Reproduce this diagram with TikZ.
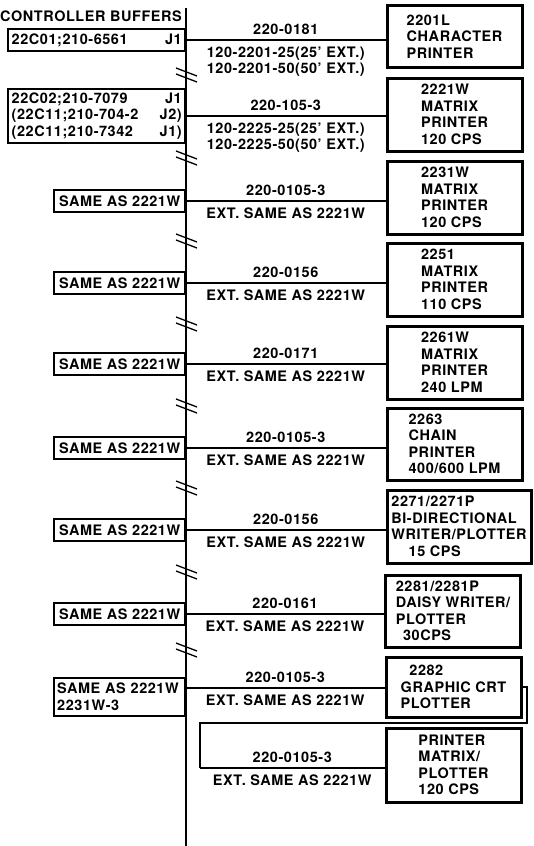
\documentclass[tikz,border=0pt]{standalone}
\usepackage{fontspec}
\setmainfont{TeX Gyre Heros}[LetterSpace=4]
\usetikzlibrary{positioning,calc}

\newcommand{\extsame}{EXT. SAME AS 2221W}

\begin{document}
\begin{tikzpicture}[x=1bp,y=-1bp,
    every node/.style={font=\fontsize{14.5}{16.6}\selectfont\bfseries,inner sep=0pt},
    pbox/.style={draw,line width=3bp,minimum width=135bp,minimum height=73bp,align=left},
    lbox/.style={draw,line width=1.6bp,minimum width=131bp,minimum height=22bp,inner xsep=3bp},
    bus/.style={line width=1.4bp},
    cable/.style={line width=1.2bp},
    brk/.style={line width=1.3bp}]
  \useasboundingbox (0,0) rectangle (534,846);

  % bus of the controller
  \coordinate (bustop) at (186,8);
  \coordinate (busbot) at (186,846);
  \node[anchor=east] (head) at (182,16) {CONTROLLER BUFFERS};
  \draw[bus] (bustop) -- (busbot);
  \foreach \y in {77,160,243,326,408,490,574,652}{
    \draw[brk] (176,\y-9) -- (197,\y-1);
    \draw[brk] (176,\y-3) -- (197,\y+5);}

  % cable taps
  \foreach \n/\y in {1/40,2/116,3/201,4/283,5/364,6/448,7/530,8/614,9/688}
    \coordinate (c\n) at (186,\y);
  \coordinate (c10) at (200,768);

  % buffers
  \node[lbox,minimum width=177bp,text width=170bp,left=0pt of c1] (l1) {22C01;210-6561\hfill J1};
  \node[lbox,minimum width=177bp,text width=170bp,minimum height=54bp,align=left,left=0pt of c2] (l2) {22C02;210-7079\hfill J1\\(22C11;210-704-2\hfill J2)\\(22C11;210-7342\hfill J1)};
  \foreach \n in {3,...,8}
    \node[lbox,left=0pt of c\n] (l\n) {SAME AS 2221W};
  \node[lbox,anchor=north east,text width=125bp,minimum height=38bp,align=left] (l9) at ($(c9)+(0,-11)$) {SAME AS 2221W\\2231W-3};

  % printers
  \node[pbox,minimum height=61bp] (p1) at (454.5,36.5) {2201L\\CHARACTER\\PRINTER};
  \node[pbox] (p2) at (454.5,114.5) {2221W\\MATRIX\\PRINTER\\120 CPS};
  \node[pbox] (p3) at (454.5,197.5) {2231W\\MATRIX\\PRINTER\\120 CPS};
  \node[pbox] (p4) at (454.5,279.5) {2251\\MATRIX\\PRINTER\\110 CPS};
  \node[pbox] (p5) at (454.5,362.5) {2261W\\MATRIX\\PRINTER\\240 LPM};
  \node[pbox,minimum height=72bp] (p6) at (454.5,444) {2263\\CHAIN\\PRINTER\\400/600 LPM};
  \node[pbox,minimum width=144bp] (p7) at (459,526.5) {2271/2271P\\BI-DIRECTIONAL\\WRITER/PLOTTER\\\hspace{1.2em}15 CPS};
  \node[pbox,minimum height=72bp] (p8) at (453,611) {2281/2281P\\DAISY WRITER/\\PLOTTER\\\hspace{.5em}30CPS};
  \node[pbox,minimum height=60bp] (p9) at (453.5,687) {\hspace{.6em}2282\\GRAPHIC CRT\\PLOTTER};
  \node[pbox,minimum height=74bp] (p10) at (453.5,765) {PRINTER\\MATRIX/\\PLOTTER\\120 CPS};

  % cables
  \foreach \n/\cabno/\cabext in {1/220-0181/{120-2201-25(25' EXT.)\\120-2201-50(50' EXT.)},
      2/220-105-3/{120-2225-25(25' EXT.)\\120-2225-50(50' EXT.)},
      3/220-0105-3/\extsame,4/220-0156/\extsame,5/220-0171/\extsame,6/220-0105-3/\extsame,
      7/220-0156/\extsame,8/220-0161/\extsame,9/220-0105-3/\extsame,10/220-0105-3/\extsame}
    \draw[cable] (c\n) -- (c\n -| p\n.west) node[midway,above=5bp] {\cabno} node[midway,below=6bp,align=center] {\cabext};
  \coordinate (k1) at (527,723);
  \coordinate (k2) at (200,723);
  \draw[cable] (p9.east) -| (k1) -- (k2) -- (c10);
\end{tikzpicture}
\end{document}
